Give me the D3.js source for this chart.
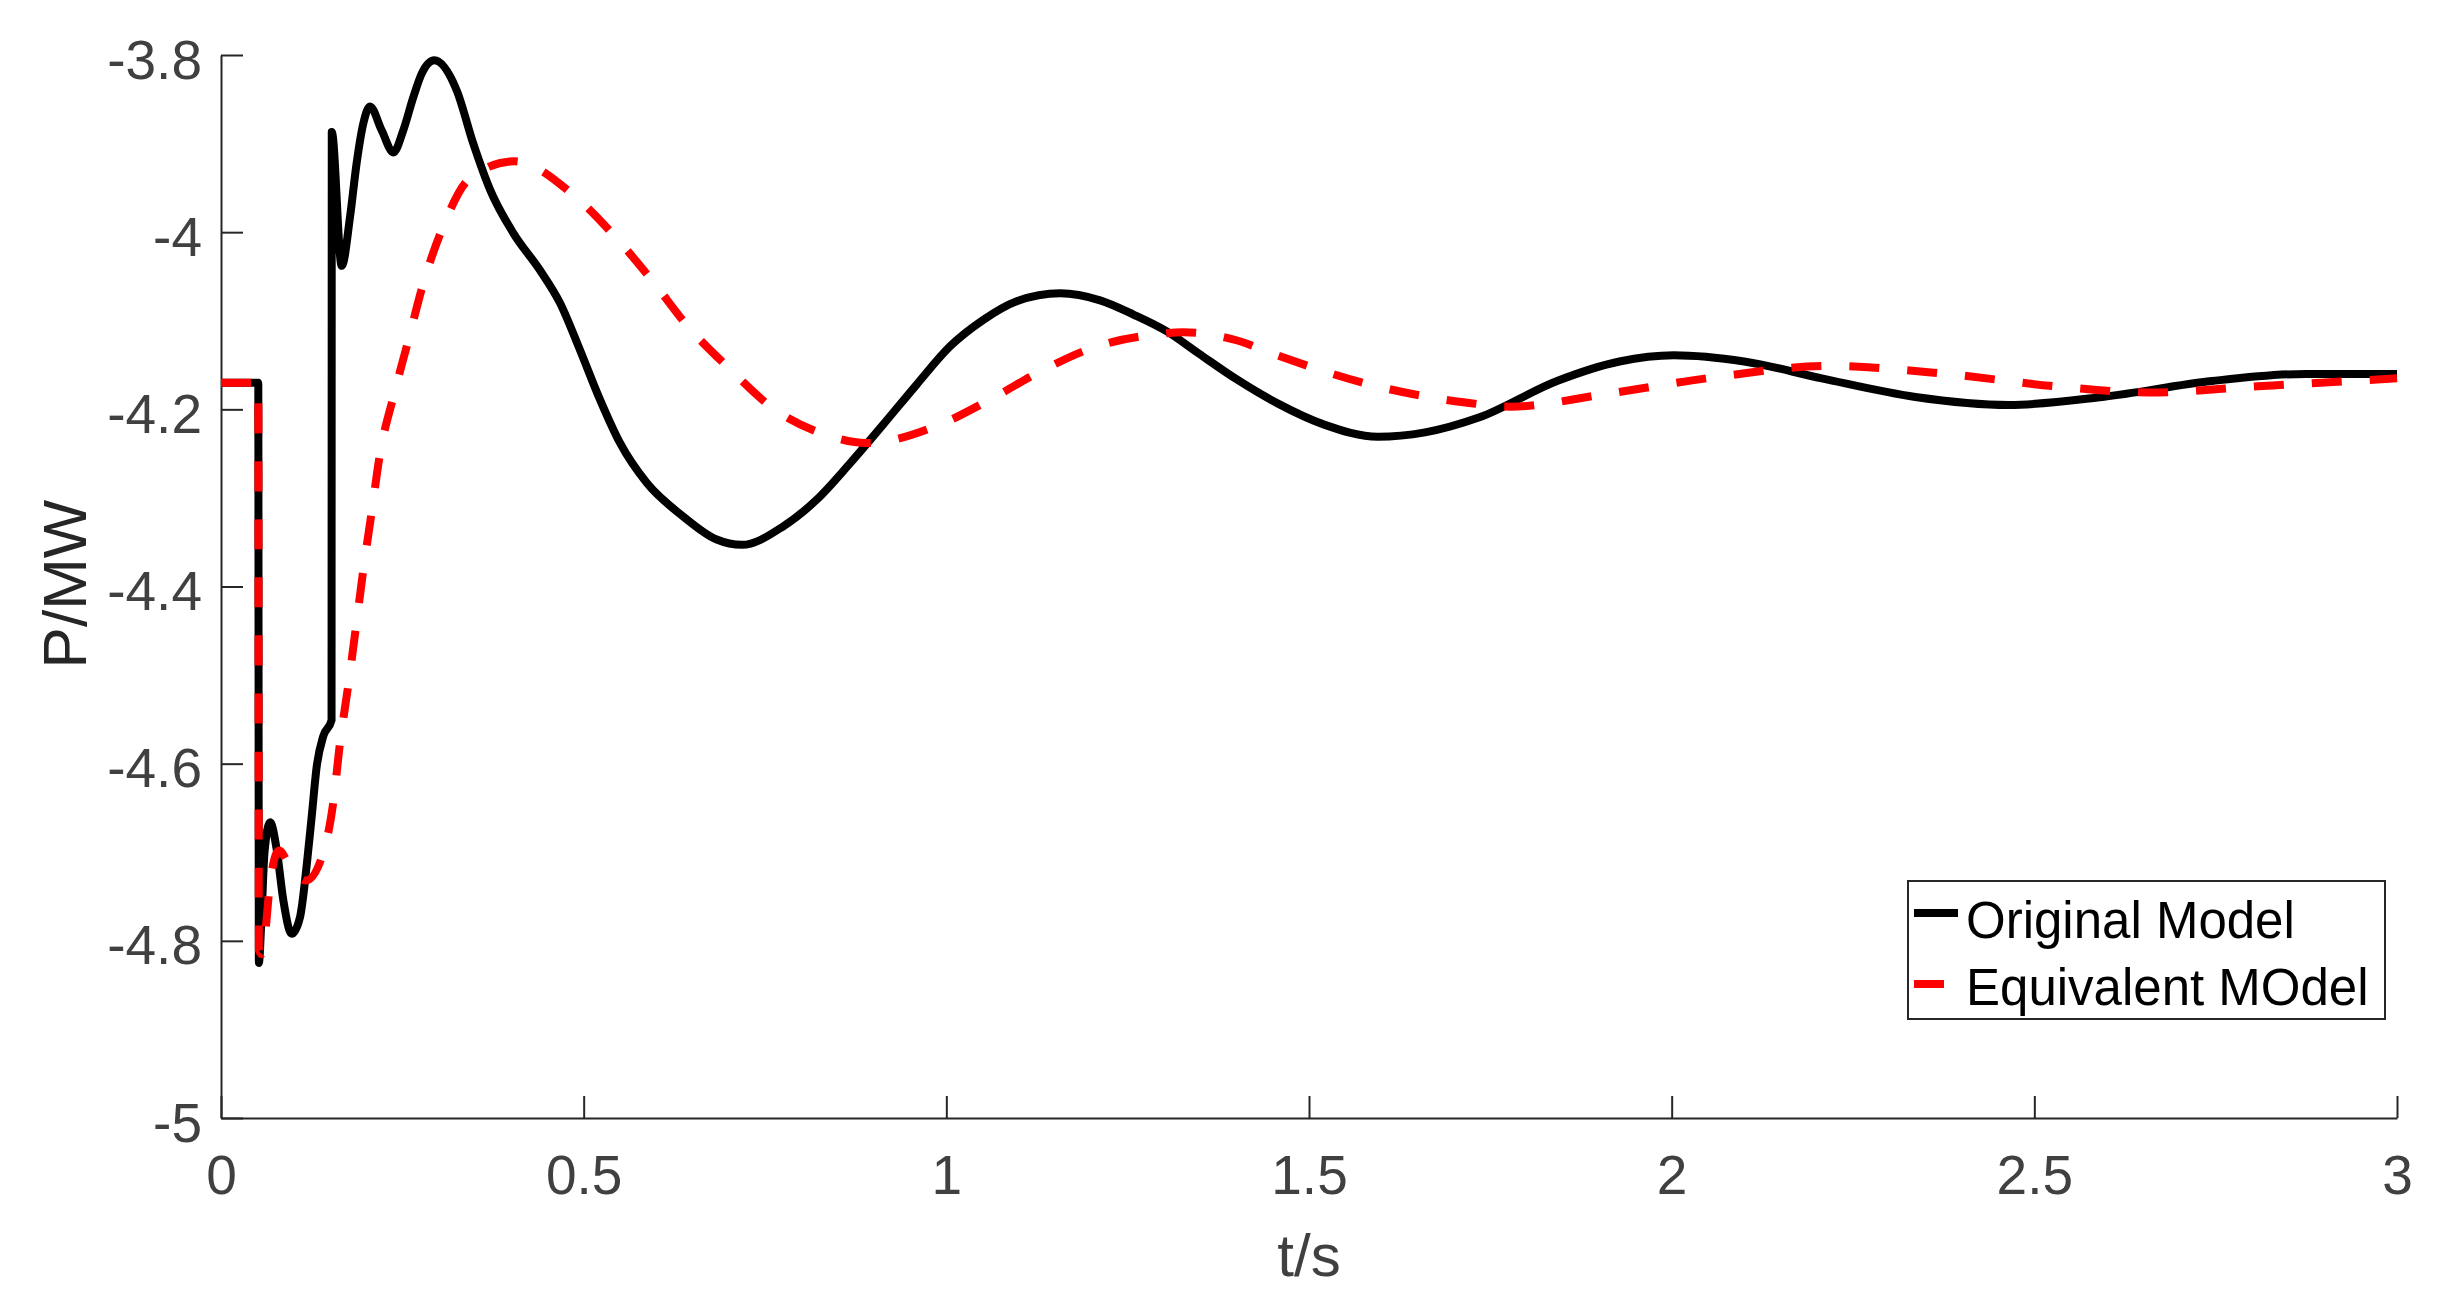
<!DOCTYPE html>
<html>
<head>
<meta charset="utf-8">
<script src="https://cdn.jsdelivr.net/npm/d3@7"></script>
<style>
  body { margin: 0; background: #fff; }
  text { font-family: "Liberation Sans", Arial, Helvetica, sans-serif; }
</style>
</head>
<body>
<div id="chart"></div>
<script>
// Original Model (black, solid)
var timeOriginal = [0, 0.0514, 0.0522, 0.0555, 0.060, 0.0676, 0.0768, 0.0859, 0.0975, 0.109, 0.118, 0.125, 0.132, 0.141, 0.1524,
  0.1527, 0.1664, 0.178, 0.187, 0.196, 0.2054, 0.2215, 0.2376, 0.2513, 0.265, 0.2767, 0.2941, 0.325, 0.3478, 0.3709, 0.403, 0.4398, 0.4674,
  0.4949, 0.5225, 0.5501, 0.5869, 0.6374, 0.6834, 0.718, 0.7752, 0.8213, 0.8672, 0.9131, 0.9591, 1.005, 1.051, 1.097, 1.157,
  1.212, 1.258, 1.304, 1.348, 1.40, 1.456, 1.52, 1.595, 1.66, 1.735, 1.842, 1.928, 2.003, 2.1, 2.207, 2.336, 2.465, 2.594,
  2.745, 2.874, 3.0];
var powerOriginal = [-4.17, -4.17, -4.825, -4.78, -4.70, -4.666, -4.697, -4.754, -4.792, -4.773, -4.716, -4.66, -4.603, -4.569, -4.551,
  -3.887, -4.038, -3.982, -3.922, -3.878, -3.858, -3.885, -3.910, -3.885, -3.848, -3.821, -3.806, -3.84, -3.90, -3.952, -4.001, -4.043, -4.080,
  -4.133, -4.189, -4.238, -4.283, -4.321, -4.347, -4.353, -4.332, -4.302, -4.261, -4.217, -4.172, -4.129, -4.099, -4.078, -4.069,
  -4.077, -4.093, -4.112, -4.137, -4.166, -4.193, -4.217, -4.231, -4.226, -4.209, -4.168, -4.146, -4.139, -4.146, -4.165, -4.186, -4.195, -4.186,
  -4.168, -4.160, -4.160];

// Equivalent MOdel (red, dashed)
var timeEquivalent = [0, 0.0514, 0.0522, 0.056, 0.0597, 0.0676, 0.080, 0.0951, 0.117, 0.1388, 0.1549, 0.164, 0.1755, 0.186, 0.1962,
  0.2077, 0.2192, 0.2376, 0.2583, 0.2789, 0.3051, 0.3433, 0.404, 0.4858, 0.541, 0.5938, 0.6443, 0.7008, 0.7614, 0.8314, 0.89,
  0.9889, 1.0602, 1.1301, 1.2036, 1.2831, 1.327, 1.40, 1.456, 1.584, 1.713, 1.778, 1.907, 2.057, 2.218, 2.379, 2.529, 2.658,
  2.808, 3.0];
var powerEquivalent = [-4.17, -4.17, -4.81, -4.815, -4.80, -4.735, -4.698, -4.716, -4.732, -4.706, -4.643, -4.577, -4.511, -4.446, -4.381,
  -4.316, -4.250, -4.186, -4.122, -4.058, -3.996, -3.939, -3.920, -3.958, -4.003, -4.054, -4.107, -4.154, -4.199, -4.228, -4.238,
  -4.218, -4.189, -4.157, -4.130, -4.116, -4.113, -4.122, -4.139, -4.172, -4.192, -4.197, -4.183, -4.164, -4.151, -4.160, -4.174, -4.181,
  -4.174, -4.165];

var xTicks = [0, 0.5, 1, 1.5, 2, 2.5, 3];
var yTicks = [-5, -4.8, -4.6, -4.4, -4.2, -4, -3.8];
var seriesNames = ["Original Model", "Equivalent MOdel"];

var W = 2442, H = 1302;
var margin = {top: 55, right: 45, bottom: 184, left: 221};
var width = W - margin.left - margin.right,
    height = H - margin.top - margin.bottom;

var svg = d3.select("#chart")
  .append("svg")
    .attr("width", W)
    .attr("height", H)
  .append("g")
    .attr("transform", "translate(" + margin.left + "," + margin.top + ")");

var x = d3.scaleLinear().domain([0, 3]).range([0, width]);
var y = d3.scaleLinear().domain([-5, -3.8]).range([height, 0]);

// plain hyphen minus like MATLAB
var fmt = function(d) { return String(d); };

// axes, MATLAB style: ticks inward, no box
var xAxis = svg.append("g")
  .attr("transform", "translate(0," + height + ")")
  .call(d3.axisBottom(x).tickValues(xTicks).tickFormat(fmt).tickSizeInner(-22).tickSizeOuter(0).tickPadding(37));
var yAxis = svg.append("g")
  .call(d3.axisLeft(y).tickValues(yTicks).tickFormat(fmt).tickSizeInner(-22).tickSizeOuter(0).tickPadding(19));

[xAxis, yAxis].forEach(function(a) {
  a.select(".domain").attr("stroke", "#262626").attr("stroke-width", 2);
  a.selectAll(".tick line").attr("stroke", "#262626").attr("stroke-width", 2);
  a.selectAll(".tick text").attr("fill", "#404040").style("font-size", "55px")
    .style("font-family", "'Liberation Sans', Arial, sans-serif");
});
yAxis.selectAll(".tick text").attr("dy", "0.42em");

svg.append("text")
  .attr("text-anchor", "middle")
  .attr("x", width / 2)
  .attr("y", 1276 - margin.top)
  .attr("fill", "#404040")
  .style("font-size", "60px")
  .text("t/s");

svg.append("text")
  .attr("text-anchor", "middle")
  .attr("transform", "rotate(-90)")
  .attr("x", -(584 - margin.top))
  .attr("y", 86 - margin.left)
  .attr("fill", "#262626")
  .style("font-size", "62px")
  .text("P/MW");

// lines
svg.append("clipPath").attr("id", "plotArea")
  .append("rect").attr("x", 0).attr("y", -10).attr("width", width + 10).attr("height", height + 10);

var line = d3.line()
  .x(function(d) { return x(d[0]); })
  .y(function(d) { return y(d[1]); })
  .curve(d3.curveMonotoneX);

var original = d3.zip(timeOriginal, powerOriginal);
var equivalent = d3.zip(timeEquivalent, powerEquivalent);

var plot = svg.append("g").attr("clip-path", "url(#plotArea)");
plot.append("path")
  .datum(original)
  .attr("fill", "none")
  .attr("stroke", "#000000")
  .attr("stroke-width", 8)
  .attr("stroke-linejoin", "round")
  .attr("d", line);
plot.append("path")
  .datum(equivalent)
  .attr("fill", "none")
  .attr("stroke", "#ff0000")
  .attr("stroke-width", 8)
  .attr("stroke-dasharray", "30,28")
  .attr("d", line);

// legend
var lg = svg.append("g").attr("transform", "translate(" + (1908 - margin.left) + "," + (881 - margin.top) + ")");
lg.append("rect").attr("width", 477).attr("height", 138)
  .attr("fill", "#fff").attr("stroke", "#262626").attr("stroke-width", 2);
lg.append("line").attr("x1", 6).attr("x2", 50).attr("y1", 32).attr("y2", 32)
  .attr("stroke", "#000").attr("stroke-width", 8);
lg.append("line").attr("x1", 6).attr("x2", 50).attr("y1", 103).attr("y2", 103)
  .attr("stroke", "#ff0000").attr("stroke-width", 8).attr("stroke-dasharray", "30,28");
lg.selectAll("text.lbl")
  .data(seriesNames)
  .enter().append("text")
    .attr("class", "lbl")
    .attr("x", 58)
    .attr("y", function(d, i) { return 57 + i * 67; })
    .attr("fill", "#000")
    .style("font-size", "51px")
    .text(function(d) { return d; });
</script>
</body>
</html>
